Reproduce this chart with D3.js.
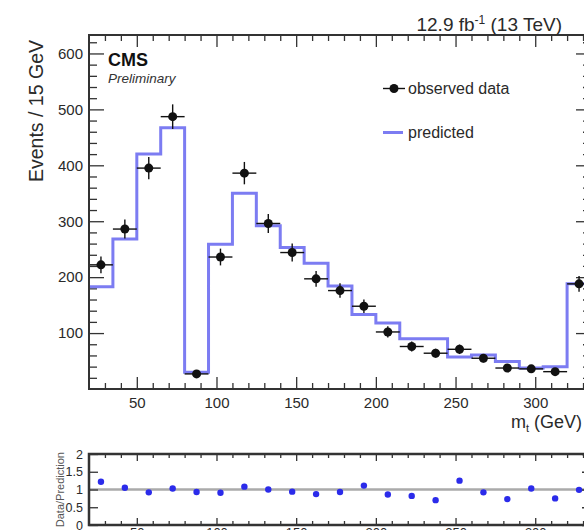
<!DOCTYPE html>
<html><head><meta charset="utf-8">
<script src="https://cdn.jsdelivr.net/npm/d3@7/dist/d3.min.js"></script>
<style>body{margin:0;background:#fff;} svg{display:block;font-family:"Liberation Sans",Arial,Helvetica,sans-serif;}</style>
</head><body><svg id="c" width="584" height="530"></svg>
<script>
// ---- data ----
const binLow = [20,35,50,65,80,95,110,125,140,155,170,185,200,215,230,245,260,275,290,305,320];
const binHigh = 335;
const observed = [222,286,395,487,27,236,386,296,244,197,176,148,102,76,64,71,55,37.5,36,31,188];
const obsErr   = [15,17,20,22,5,15,20,17,16,14,13,12,10,9,8,8.5,7.5,6,6,5.5,14];
const predicted = [183,268,420,467,30,259,350,292,253,225,184,133,118,90,90,57,61,49,37.5,40,188];
const ratio = [1.22,1.05,0.92,1.03,0.93,0.91,1.08,1.0,0.94,0.87,0.93,1.11,0.86,0.82,0.70,1.25,0.92,0.73,1.03,0.75,0.99];
const xTicks = [50,100,150,200,250,300];
const yTicks = [100,200,300,400,500,600];
const ratioTicks = [0,0.5,1,1.5,2];
const ratioTickLabels = ["0","0.5","1","1.5","2"];

// ---- layout ----
const svg = d3.select("#c");
const L = 89, R = 591, T = 35, B = 389;
const RT = 454, RB = 525;
const x = d3.scaleLinear().domain([20, 335]).range([L, R]);
const y = d3.scaleLinear().domain([0, 633]).range([B, T]);
const yr = d3.scaleLinear().domain([0, 2]).range([RB, RT]);
const xMinor = d3.range(30, 335, 10).filter(v => v % 50 !== 0);
const yMinor = d3.range(20, 633, 20).filter(v => v % 100 !== 0);
const txt = "#2a2a2a";
const axisCol = "#333";

function styleAxis(g) {
  g.select(".domain").remove();
  g.selectAll(".tick line").attr("stroke", axisCol).attr("stroke-width", 1.3);
  g.selectAll(".tick text").attr("fill", txt).attr("font-family", "Liberation Sans, Arial, sans-serif");
}

// ---- main panel axes ----
svg.append("g").attr("transform", `translate(0,${B})`)
  .call(d3.axisBottom(x).tickValues(xTicks).tickSize(-12).tickPadding(8).tickFormat(d3.format("d")))
  .call(styleAxis).call(g => g.selectAll(".tick text").attr("font-size", 15));
svg.append("g").attr("transform", `translate(0,${B})`)
  .call(d3.axisBottom(x).tickValues(xMinor).tickSize(-6).tickFormat(""))
  .call(styleAxis);
svg.append("g").attr("transform", `translate(0,${T})`)
  .call(d3.axisTop(x).tickValues(xTicks).tickSize(-12).tickFormat(""))
  .call(styleAxis);
svg.append("g").attr("transform", `translate(0,${T})`)
  .call(d3.axisTop(x).tickValues(xMinor).tickSize(-6).tickFormat(""))
  .call(styleAxis);
svg.append("g").attr("transform", `translate(${L},0)`)
  .call(d3.axisLeft(y).tickValues(yTicks).tickSize(-15).tickPadding(6).tickFormat(d3.format("d")))
  .call(styleAxis).call(g => g.selectAll(".tick text").attr("font-size", 15));
svg.append("g").attr("transform", `translate(${L},0)`)
  .call(d3.axisLeft(y).tickValues(yMinor).tickSize(-8).tickFormat(""))
  .call(styleAxis);
svg.append("g").attr("transform", `translate(${R},0)`)
  .call(d3.axisRight(y).tickValues(yTicks).tickSize(-15).tickFormat(""))
  .call(styleAxis);
svg.append("g").attr("transform", `translate(${R},0)`)
  .call(d3.axisRight(y).tickValues(yMinor).tickSize(-8).tickFormat(""))
  .call(styleAxis);

// ---- predicted histogram ----
const stepPts = binLow.map((b, i) => [b, predicted[i]]);
stepPts.push([binHigh, predicted[predicted.length - 1]]);
svg.append("path")
  .attr("d", d3.line().x(d => x(d[0])).y(d => y(d[1])).curve(d3.curveStepAfter)(stepPts))
  .attr("fill", "none").attr("stroke", "#7c7cf2").attr("stroke-width", 3);

// ---- observed data ----
const obs = svg.append("g");
binLow.forEach((b, i) => {
  const cx = x(b + 7.5);
  obs.append("line").attr("x1", x(b)).attr("x2", x(b + 15))
    .attr("y1", y(observed[i])).attr("y2", y(observed[i]))
    .attr("stroke", "#111").attr("stroke-width", 1.4);
  obs.append("line").attr("x1", cx).attr("x2", cx)
    .attr("y1", y(observed[i] - obsErr[i])).attr("y2", y(observed[i] + obsErr[i]))
    .attr("stroke", "#111").attr("stroke-width", 1.4);
  obs.append("circle").attr("cx", cx).attr("cy", y(observed[i])).attr("r", 4.5).attr("fill", "#111");
});

// frame
svg.append("rect").attr("x", L).attr("y", T).attr("width", R - L).attr("height", B - T)
  .attr("fill", "none").attr("stroke", axisCol).attr("stroke-width", 2);

// ---- texts ----
svg.append("text").attr("x", 108).attr("y", 66).attr("font-size", 18).attr("font-weight", "bold")
  .attr("fill", "#111").text("CMS");
svg.append("text").attr("x", 108).attr("y", 83).attr("font-size", 13.5).attr("font-style", "italic")
  .attr("fill", "#333").text("Preliminary");
const lumi = svg.append("text").attr("x", 562).attr("y", 31).attr("font-size", 19)
  .attr("text-anchor", "end").attr("fill", txt);
lumi.append("tspan").text("12.9 fb");
lumi.append("tspan").attr("font-size", 12).attr("dy", -7).text("-1");
lumi.append("tspan").attr("dy", 7).text(" (13 TeV)");

svg.append("text").attr("transform", "translate(43,40) rotate(-90)").attr("text-anchor", "end")
  .attr("font-size", 19.5).attr("fill", txt).text("Events / 15 GeV");

const xt = svg.append("text").attr("x", 511).attr("y", 428).attr("font-size", 18).attr("fill", txt);
xt.append("tspan").text("m");
xt.append("tspan").attr("font-size", 11).attr("dy", 4).text("t");
xt.append("tspan").attr("dy", -4).text(" (GeV)");

// legend
svg.append("line").attr("x1", 383).attr("x2", 405).attr("y1", 88.5).attr("y2", 88.5)
  .attr("stroke", "#111").attr("stroke-width", 1.4);
svg.append("circle").attr("cx", 394).attr("cy", 88.5).attr("r", 4.5).attr("fill", "#111");
svg.append("text").attr("x", 408).attr("y", 94).attr("font-size", 16).attr("fill", txt).text("observed data");
svg.append("line").attr("x1", 383).attr("x2", 403).attr("y1", 132.5).attr("y2", 132.5)
  .attr("stroke", "#7c7cf2").attr("stroke-width", 3);
svg.append("text").attr("x", 408).attr("y", 138).attr("font-size", 16).attr("fill", txt).text("predicted");

// ---- ratio panel ----
svg.append("line").attr("x1", L).attr("x2", R).attr("y1", yr(1)).attr("y2", yr(1))
  .attr("stroke", "#aaa").attr("stroke-width", 2.5);
svg.append("g").attr("transform", `translate(${L},0)`)
  .call(d3.axisLeft(yr).tickValues(ratioTicks).tickSize(-9).tickPadding(6).tickFormat((d, i) => ratioTickLabels[i]))
  .call(styleAxis).call(g => g.selectAll(".tick text").attr("font-size", 12.5));
svg.append("g").attr("transform", `translate(${R},0)`)
  .call(d3.axisRight(yr).tickValues(ratioTicks).tickSize(-9).tickFormat(""))
  .call(styleAxis);
svg.append("g").attr("transform", `translate(0,${RT})`)
  .call(d3.axisTop(x).tickValues(xTicks).tickSize(-7).tickFormat(""))
  .call(styleAxis);
svg.append("g").attr("transform", `translate(0,${RT})`)
  .call(d3.axisTop(x).tickValues(xMinor).tickSize(-4).tickFormat(""))
  .call(styleAxis);
svg.append("g").attr("transform", `translate(0,${RB})`)
  .call(d3.axisBottom(x).tickValues(xTicks).tickSize(-7).tickPadding(3).tickFormat(d3.format("d")))
  .call(styleAxis).call(g => g.selectAll(".tick text").attr("font-size", 13));
svg.append("g").attr("transform", `translate(0,${RB})`)
  .call(d3.axisBottom(x).tickValues(xMinor).tickSize(-4).tickFormat(""))
  .call(styleAxis);

svg.append("g").selectAll("circle").data(ratio).join("circle")
  .attr("cx", (d, i) => x(binLow[i] + 7.5)).attr("cy", d => yr(d)).attr("r", 3.2).attr("fill", "#2b2bea");

svg.append("rect").attr("x", L).attr("y", RT).attr("width", R - L).attr("height", RB - RT)
  .attr("fill", "none").attr("stroke", axisCol).attr("stroke-width", 2.5);

svg.append("text").attr("transform", "translate(64,452) rotate(-90)").attr("text-anchor", "end")
  .attr("font-size", 11).attr("fill", "#555").text("Data/Prediction");
</script></body></html>
